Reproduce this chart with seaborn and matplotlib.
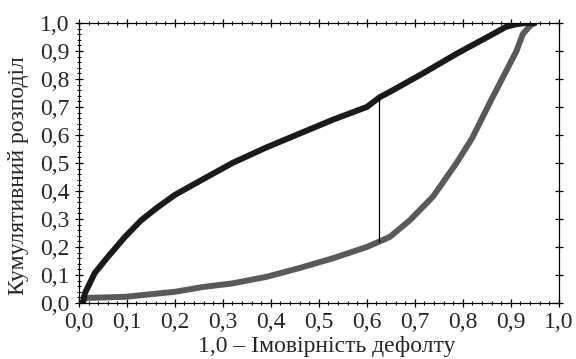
import matplotlib
matplotlib.use("Agg")
import matplotlib.pyplot as plt
import seaborn as sns
import pandas as pd
from matplotlib.ticker import MultipleLocator, FixedLocator

# cumulative distribution curves
bad_x = [0.008, 0.0125, 0.033, 0.06, 0.096, 0.13, 0.165, 0.2, 0.248, 0.32, 0.39, 0.46,
         0.53, 0.60, 0.627, 0.648, 0.717, 0.787, 0.856, 0.89, 0.91, 0.93, 0.95]
bad_y = [0.0, 0.035, 0.107, 0.164, 0.236, 0.296, 0.343, 0.386, 0.432, 0.50, 0.555, 0.605,
         0.655, 0.70, 0.735, 0.754, 0.82, 0.89, 0.954, 0.986, 0.995, 1.0, 1.0]

good_x = [0.008, 0.012, 0.096, 0.2, 0.258, 0.32, 0.39, 0.46, 0.53, 0.60, 0.627, 0.648,
          0.69, 0.738, 0.787, 0.82, 0.856, 0.884, 0.912, 0.925, 0.94, 0.95]
good_y = [0.0, 0.018, 0.022, 0.04, 0.057, 0.07, 0.093, 0.125, 0.16, 0.20, 0.22, 0.236,
          0.296, 0.38, 0.50, 0.59, 0.714, 0.807, 0.90, 0.96, 0.99, 1.0]

# KS distance marker
ks_x = 0.625
ks_low = 0.218
ks_high = 0.735

tick_values = [0.0, 0.1, 0.2, 0.3, 0.4, 0.5, 0.6, 0.7, 0.8, 0.9, 1.0]
tick_labels = ["0,0", "0,1", "0,2", "0,3", "0,4", "0,5", "0,6", "0,7", "0,8", "0,9", "1,0"]

sns.set_style("ticks")
plt.rcParams['font.family'] = ['Liberation Serif', 'DejaVu Serif']

fig = plt.figure(figsize=(5.76, 3.59), dpi=100)
ax = fig.add_axes([0.137, 0.156, 0.833, 0.780])

bad = pd.DataFrame({'x': bad_x, 'y': bad_y})
good = pd.DataFrame({'x': good_x, 'y': good_y})
sns.lineplot(data=good, x='x', y='y', ax=ax, color='#595959', linewidth=4.3,
             sort=False, estimator=None)
sns.lineplot(data=bad, x='x', y='y', ax=ax, color='#1a1a1a', linewidth=4.3,
             sort=False, estimator=None)
ax.vlines(ks_x, ks_low, ks_high, color='black', linewidth=0.9)

ax.set_xlim(0, 1)
ax.set_ylim(0, 1)
ax.xaxis.set_major_locator(FixedLocator(tick_values))
ax.yaxis.set_major_locator(FixedLocator(tick_values))
ax.set_xticklabels(tick_labels)
ax.set_yticklabels(tick_labels)
ax.xaxis.set_minor_locator(MultipleLocator(0.02))
ax.yaxis.set_minor_locator(MultipleLocator(0.02))
ax.tick_params(which='major', direction='inout', length=6, width=0.9, color='black',
               labelsize=17, top=True, right=True)
ax.tick_params(which='minor', direction='inout', length=3.5, width=0.7, color='black',
               top=True, right=False)
ax.tick_params(axis='x', which='major', pad=3.5)
ax.tick_params(axis='y', which='major', pad=4)
for s in ax.spines.values():
    s.set_visible(True)
    s.set_color('black')
    s.set_linewidth(0.9)

ax.set_xlabel('1,0 – Імовірність дефолту', fontsize=17)
ax.set_ylabel('Кумулятивний розподіл', fontsize=17)
ax.xaxis.set_label_coords(0.517, -0.118)
ax.yaxis.set_label_coords(-0.105, 0.455)

fig.savefig('out.png', dpi=100)
